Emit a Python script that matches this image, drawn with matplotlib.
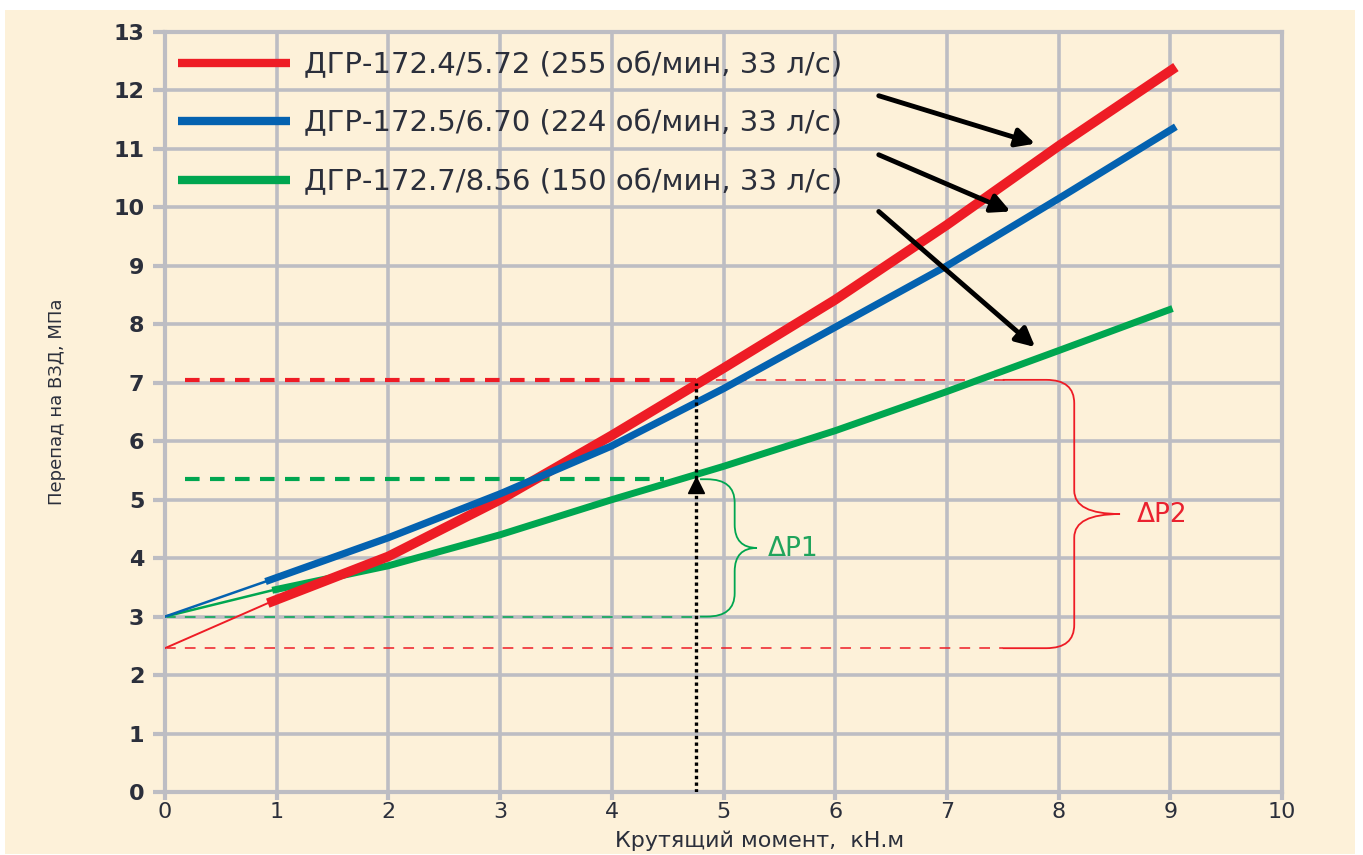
import numpy as np
import matplotlib.pyplot as plt
from matplotlib.path import Path
from matplotlib.patches import PathPatch, Rectangle

# motor curves: pressure drop vs torque
red_x = [0.92, 2, 3, 4, 5, 6, 7, 8, 9.05]
red_y = [3.23, 4.03, 5.0, 6.1, 7.25, 8.42, 9.7, 11.05, 12.4]
blue_x = [0.9, 2, 3, 4, 5, 6, 7, 8, 9.05]
blue_y = [3.6, 4.35, 5.1, 5.92, 6.9, 7.95, 9.0, 10.15, 11.38]
green_x = [0.96, 2, 3, 4, 5, 6, 7, 8, 9.02]
green_y = [3.45, 3.87, 4.4, 5.0, 5.57, 6.18, 6.85, 7.55, 8.27]

# idle pressure (zero torque) for each motor
red_p0 = 2.46
blue_p0 = 3.0
green_p0 = 3.0

labels = ["ДГР-172.4/5.72 (255 об/мин, 33 л/с)",
          "ДГР-172.5/6.70 (224 об/мин, 33 л/с)",
          "ДГР-172.7/8.56 (150 об/мин, 33 л/с)"]

work_torque = 4.75
red_work_p = 7.05
green_work_p = 5.35

# pointer arrows: (start x, start y, end x, end y)
arrows = [(6.39, 11.91, 7.79, 11.09),
          (6.39, 10.9, 7.57, 9.93),
          (6.39, 9.93, 7.79, 7.61)]

RED = "#ee1c25"
BLUE = "#0462b0"
GREEN = "#00a650"
GRAY = "#bdbdc3"
CREAM = "#fdf1d9"
TXT = "#2b2f3b"

fig = plt.figure(figsize=(13.63, 8.55), dpi=100, facecolor="white")
fig.patches.append(Rectangle((5 / 1363, 1 / 855), 1350 / 1363, 844 / 855,
                             transform=fig.transFigure, facecolor=CREAM,
                             edgecolor="none", zorder=-10))
ax = fig.add_axes([165 / 1363, 63 / 855, 1117 / 1363, 760 / 855])
ax.set_facecolor(CREAM)
ax.set_xlim(0, 10)
ax.set_ylim(0, 13)
ax.set_xticks(range(11))
ax.set_yticks(range(14))
ax.grid(True, color=GRAY, lw=2.6, zorder=0)
ax.set_axisbelow(True)
for s in ax.spines.values():
    s.set_color(GRAY)
    s.set_linewidth(3)
ax.tick_params(axis="both", colors=GRAY, width=3, labelcolor=TXT)
ax.tick_params(axis="y", length=9, pad=6, labelsize=16)
ax.tick_params(axis="x", length=6, pad=1, labelsize=16)
for t in ax.get_yticklabels():
    t.set_fontweight("bold")

# thin lead-in lines from idle pressure
ax.plot([0, green_x[0]], [green_p0, green_y[0]], color=GREEN, lw=1.8, zorder=3)
ax.plot([0, red_x[0]], [red_p0, red_y[0]], color=RED, lw=1.4, zorder=3)
ax.plot([0, blue_x[0]], [blue_p0, blue_y[0]], color=BLUE, lw=1.8, zorder=3)

# main curves
ax.plot(green_x, green_y, color=GREEN, lw=5, solid_capstyle="butt", zorder=4,
        label=labels[2])
ax.plot(red_x, red_y, color=RED, lw=7, solid_capstyle="butt", zorder=5,
        label=labels[0])
ax.plot(blue_x, blue_y, color=BLUE, lw=5.2, solid_capstyle="butt", zorder=6,
        label=labels[1])

# working-point dashed levels
ax.plot([0.18, work_torque], [red_work_p] * 2, color=RED, lw=3,
        dashes=(3.5, 2.5), zorder=4)
ax.plot([work_torque, 7.56], [red_work_p] * 2, color=RED, lw=1.1,
        dashes=(7, 6), zorder=2)
ax.plot([0, 7.5], [red_p0] * 2, color=RED, lw=1.1, dashes=(7, 6), zorder=2)
ax.plot([0.18, 4.47], [green_work_p] * 2, color=GREEN, lw=3,
        dashes=(3.5, 2.5), zorder=4)
ax.plot([0, 4.79], [green_p0] * 2, color=GREEN, lw=1.1, dashes=(7, 6),
        zorder=2)

# vertical dotted line at the working torque
ax.plot([work_torque, work_torque], [0, 7.0], color="black", lw=2.4,
        ls=(0, (1, 1)), zorder=7)
ax.plot([work_torque], [green_work_p - 0.1], marker="^", color="black",
        markersize=12, zorder=8)


def brace(xl, xv, xt, ybot, ytop, color):
    ymid = (ybot + ytop) / 2
    rx, ry = 0.25, 0.4
    verts = [(xl, ytop), (xv - rx, ytop),
             (xv, ytop), (xv, ytop - ry),
             (xv, ymid + ry),
             (xv, ymid), (xt, ymid),
             (xv, ymid), (xv, ymid - ry),
             (xv, ybot + ry),
             (xv, ybot), (xv - rx, ybot),
             (xl, ybot)]
    codes = [Path.MOVETO, Path.LINETO,
             Path.CURVE3, Path.CURVE3,
             Path.LINETO,
             Path.CURVE3, Path.CURVE3,
             Path.CURVE3, Path.CURVE3,
             Path.LINETO,
             Path.CURVE3, Path.CURVE3,
             Path.LINETO]
    ax.add_patch(PathPatch(Path(verts, codes), facecolor="none",
                           edgecolor=color, lw=1.3, zorder=3))


brace(4.79, 5.1, 5.3, green_p0, green_work_p, GREEN)
brace(7.5, 8.14, 8.55, red_p0, red_work_p, RED)
ax.text(5.4, 4.15, "ΔP1", color="#20a45c", fontsize=19, va="center")
ax.text(8.7, 4.73, "ΔP2", color="#ea2230", fontsize=19, va="center")

for x0, y0, x1, y1 in arrows:
    ax.annotate("", xy=(x1, y1), xytext=(x0, y0),
                arrowprops=dict(arrowstyle="-|>", color="black", lw=3.5,
                                mutation_scale=28, shrinkA=0, shrinkB=0),
                zorder=9)

h, l = ax.get_legend_handles_labels()
order = [1, 2, 0]
leg = ax.legend([h[i] for i in order], [l[i] for i in order],
                loc="upper left", bbox_to_anchor=(0.012, 0.975),
                frameon=False, fontsize=21,
                handlelength=3.84, handletextpad=0.48, labelspacing=1.05,
                borderpad=0, borderaxespad=0)
for line in leg.get_lines():
    line.set_linewidth(6)
for t in leg.get_texts():
    t.set_color(TXT)

fig.text(760 / 1363, 1 - 841 / 855, "Крутящий момент,  кН.м", fontsize=16,
         color=TXT, ha="center", va="center")
fig.text(57 / 1363, 1 - 402 / 855, "Перепад на ВЗД, МПа", rotation=90,
         ha="center", va="center", fontsize=13, color=TXT)

fig.savefig("out.png", dpi=100, facecolor="white")
